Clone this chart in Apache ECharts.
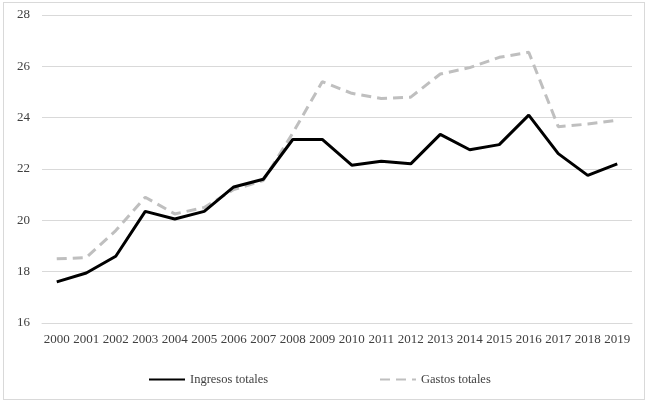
<!DOCTYPE html>
<html><head><meta charset="utf-8">
<script src="https://cdn.jsdelivr.net/npm/echarts@6/dist/echarts.min.js"></script>
<style>html,body{margin:0;padding:0;background:#fff}#c{width:650px;height:405px}
#frame{position:absolute;left:3px;top:2px;width:640px;height:396px;border:1px solid #d9d9d9;pointer-events:none}</style>
</head><body><div id="c"></div><div id="frame"></div>
<script>
const years = ['2000','2001','2002','2003','2004','2005','2006','2007','2008','2009','2010','2011','2012','2013','2014','2015','2016','2017','2018','2019'];
const ingresos = [17.6,17.95,18.6,20.35,20.05,20.35,21.3,21.6,23.15,23.15,22.15,22.3,22.2,23.35,22.75,22.95,24.1,22.6,21.75,22.2];
const gastos = [18.5,18.55,19.6,20.9,20.25,20.5,21.2,21.55,23.4,25.4,24.95,24.75,24.8,25.7,25.95,26.35,26.55,23.65,23.75,23.9];
const yTicks = {min:16, max:28, interval:2};
const font = 'Liberation Serif, Times New Roman, serif';
const chart = echarts.init(document.getElementById('c'));
chart.setOption({
  animation:false,
  textStyle:{fontFamily:font},
  grid:{left:42,right:18,top:15,bottom:82},
  legend:[
    {data:['Ingresos totales'],left:143,top:368,itemWidth:36,itemHeight:3,itemGap:5,
     itemStyle:{opacity:0},
     textStyle:{fontFamily:font,fontSize:12.5,color:'#404040'}},
    {data:['Gastos totales'],left:374,top:368,itemWidth:36,itemHeight:3,itemGap:5,
     itemStyle:{opacity:0},
     textStyle:{fontFamily:font,fontSize:12.5,color:'#404040'}}
  ],
  xAxis:{type:'category',data:years,boundaryGap:true,
    axisLine:{show:true,lineStyle:{color:'#d9d9d9',width:1}},axisTick:{show:false},
    axisLabel:{fontFamily:font,fontSize:13,color:'#404040',margin:10,interval:0}},
  yAxis:{type:'value',min:yTicks.min,max:yTicks.max,interval:yTicks.interval,
    axisLine:{show:false},axisTick:{show:false},
    splitLine:{lineStyle:{color:'#d9d9d9',width:1}},
    axisLabel:{fontFamily:font,fontSize:13,color:'#404040',margin:12}},
  series:[
    {name:'Ingresos totales',type:'line',data:ingresos,symbol:'none',
     lineStyle:{color:'#000',width:3},itemStyle:{color:'#000'},z:3},
    {name:'Gastos totales',type:'line',data:gastos,symbol:'none',
     lineStyle:{color:'#bfbfbf',width:3,type:[10,6]},itemStyle:{color:'#bfbfbf'},z:2}
  ]
});
</script></body></html>
